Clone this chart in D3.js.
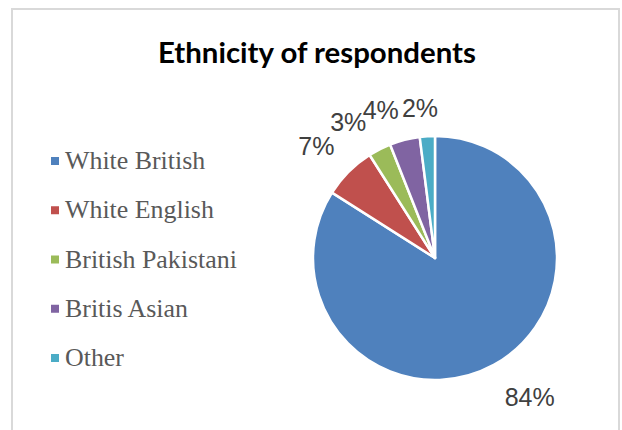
<!DOCTYPE html>
<html>
<head>
<meta charset="utf-8">
<script src="https://cdn.jsdelivr.net/npm/d3@7"></script>
<style>
  html, body { margin: 0; padding: 0; background: #fff; }
  svg { display: block; }
</style>
</head>
<body>
<svg id="chart" width="622" height="430"></svg>
<script>
// ---- data ----
const categories = ["White British", "White English", "British Pakistani", "Britis Asian", "Other"];
const values = [84, 7, 3, 4, 2];
const labels = ["84%", "7%", "3%", "4%", "2%"];
const colors = ["#4f81bd", "#c0504d", "#9bbb59", "#8064a2", "#4bacc6"];
const title = "Ethnicity of respondents";

// ---- layout (label placement tweaks: angle nudge in degrees, radius in px) ----
const labelLayout = [
  { da: -5.5, r: 168 },
  { da: -1.7, r: 163 },
  { da: -5.6, r: 161 },
  { da: -5.8, r: 157 },
  { da: -2.1, r: 151 }
];

const svg = d3.select("#chart");
const W = 622, H = 430;

// frame
svg.append("rect")
  .attr("x", 12).attr("y", 9)
  .attr("width", 607).attr("height", H + 20)
  .attr("fill", "#fff")
  .attr("stroke", "#d9d9d9")
  .attr("stroke-width", 2);

// title, fitted to target width
const t = svg.append("text")
  .attr("x", 317).attr("y", 63)
  .attr("text-anchor", "middle")
  .attr("font-family", "Lato, 'Open Sans', sans-serif")
  .attr("font-weight", "bold")
  .attr("font-size", 24)
  .attr("fill", "#000")
  .text(title);
{
  const w = t.node().getComputedTextLength();
  t.attr("font-size", 24 * 318 / w);
}

// pie
const cx = 435, cy = 258, R = 122;
const pie = d3.pie().sort(null).value(d => d)(values);
const arc = d3.arc().innerRadius(0).outerRadius(R);
const g = svg.append("g").attr("transform", `translate(${cx},${cy})`);
g.selectAll("path.slice")
  .data(pie)
  .join("path")
  .attr("class", "slice")
  .attr("d", arc)
  .attr("fill", (d, i) => colors[i])
  .attr("stroke", "#fff")
  .attr("stroke-width", 2.5)
  .attr("stroke-linejoin", "round");

// data labels
g.selectAll("text.lbl")
  .data(pie)
  .join("text")
  .attr("class", "lbl")
  .attr("x", (d, i) => {
    const a = (d.startAngle + d.endAngle) / 2 + labelLayout[i].da * Math.PI / 180;
    return Math.sin(a) * labelLayout[i].r;
  })
  .attr("y", (d, i) => {
    const a = (d.startAngle + d.endAngle) / 2 + labelLayout[i].da * Math.PI / 180;
    return -Math.cos(a) * labelLayout[i].r;
  })
  .attr("dy", "0.35em")
  .attr("text-anchor", "middle")
  .attr("font-family", "'Liberation Sans', Arial, sans-serif")
  .attr("font-size", 25)
  .attr("fill", "#404040")
  .text((d, i) => labels[i]);

// legend
const legY = d3.scalePoint().domain(categories).range([161, 358]);
const leg = svg.append("g");
const items = leg.selectAll("g.item")
  .data(categories)
  .join("g")
  .attr("class", "item")
  .attr("transform", d => `translate(0,${legY(d)})`);
items.append("rect")
  .attr("x", 51).attr("y", -4)
  .attr("width", 8).attr("height", 8)
  .attr("fill", (d, i) => colors[i]);
const legText = items.append("text")
  .attr("x", 65).attr("y", 8)
  .attr("font-family", "'Liberation Serif', 'DejaVu Serif', serif")
  .attr("font-size", 22)
  .attr("fill", "#595959")
  .text(d => d);
{
  const w = legText.filter(d => d === "British Pakistani").node().getComputedTextLength();
  legText.attr("font-size", 22 * 172 / w);
}
</script>
</body>
</html>
